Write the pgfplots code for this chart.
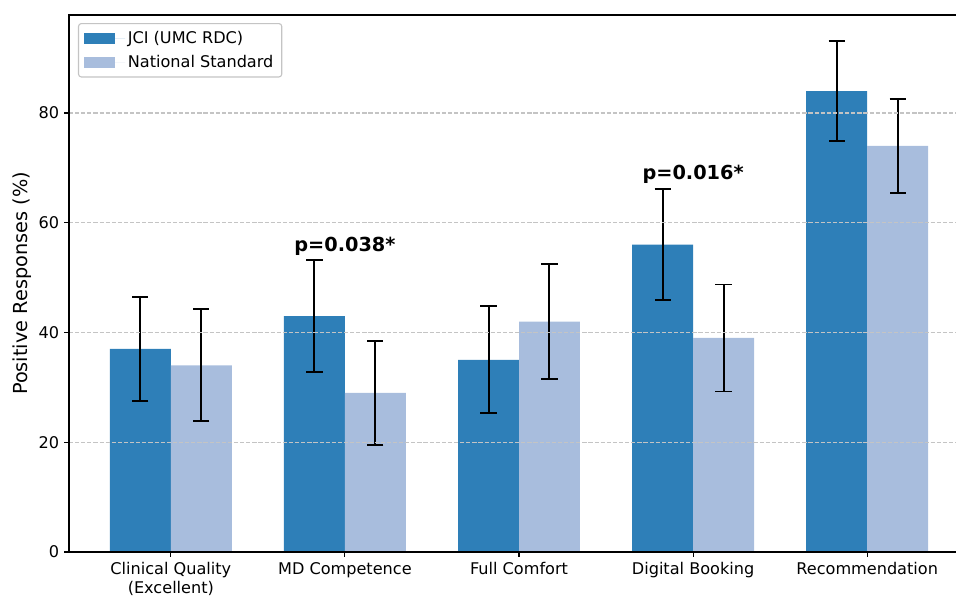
\documentclass[border=0pt]{standalone}
\usepackage{fontspec}
\setmainfont{DejaVu Sans}
\usepackage{pgfplots}
\pgfplotsset{compat=1.18}
\definecolor{cjci}{HTML}{2E7FB8}
\definecolor{cnat}{HTML}{A8BDDD}
\definecolor{cgrid}{HTML}{C4C4C4}
\begin{document}
\begin{tikzpicture}
\begin{axis}[
  scale only axis,
  width=648pt, height=386.64pt,
  xmin=-0.585, xmax=4.585,
  ymin=0, ymax=97.86,
  axis on top,
  axis line style={line width=0.8pt, black},
  xtick={0,1,2,3,4},
  xticklabels={{Clinical Quality\\(Excellent)},{MD Competence},{Full Comfort},{Digital Booking},{Recommendation}},
  xticklabel style={align=center, font=\fontsize{11.6}{13.4}\selectfont, yshift=-0.5pt},
  ytick={0,20,40,60,80},
  yticklabel style={font=\fontsize{11.6}{13.7}\selectfont},
  /pgf/number format/assume math mode=true,
  tick align=outside,
  major tick length=3.5pt,
  tick style={line width=0.8pt, black},
  xtick pos=bottom, ytick pos=left,
  ymajorgrids,
  grid style={cgrid, line width=0.8pt, dash pattern=on 3pt off 1.4pt},
  ylabel={Positive Responses (\%)},
  ylabel style={font=\fontsize{13.9}{16}\selectfont, yshift=-2pt},
  ybar, bar width=0.35,
  error bars/error bar style={line width=1.4pt, black},
  error bars/error mark options={rotate=90, line width=1.4pt, mark size=5.8pt, black},
  legend style={at={(0.01,0.985)}, anchor=north west, draw=cgrid, line width=0.8pt,
    rounded corners=2pt, font=\fontsize{11.6}{13.7}\selectfont,
    inner xsep=4pt, inner ysep=3.4pt, row sep=3pt,
    cells={anchor=west}},
  legend image code/.code={\fill[#1, sharp corners] (0pt,-3.8pt) rectangle (22.3pt,3.8pt);
    \path (0pt,0pt) -- (29.5pt,0pt);},
]
\addplot[fill=cjci, draw=none, bar shift=0pt,
  error bars/.cd, y dir=both, y explicit]
  coordinates {
    (-0.175,37) +- (0,9.45)
    (0.825,43) +- (0,10.2)
    (1.825,35) +- (0,9.75)
    (2.825,56) +- (0,10.15)
    (3.825,84) +- (0,9.1)
  };
\addlegendentry{JCI (UMC RDC)}
\addplot[fill=cnat, draw=none, bar shift=0pt,
  error bars/.cd, y dir=both, y explicit]
  coordinates {
    (0.175,34) +- (0,10.2)
    (1.175,29) +- (0,9.5)
    (2.175,42) +- (0,10.5)
    (3.175,39) +- (0,9.75)
    (4.175,74) +- (0,8.5)
  };
\addlegendentry{National Standard}
\node[anchor=base, font=\fontsize{13.9}{16}\selectfont\bfseries] at (axis cs:1,54.7) {p=0.038*};
\node[anchor=base, font=\fontsize{13.9}{16}\selectfont\bfseries] at (axis cs:3,67.8) {p=0.016*};
\end{axis}
\pgfresetboundingbox
\path[use as bounding box] (-49.68pt,-32.4pt) rectangle (638.64pt,397.44pt);
\end{tikzpicture}
\end{document}
